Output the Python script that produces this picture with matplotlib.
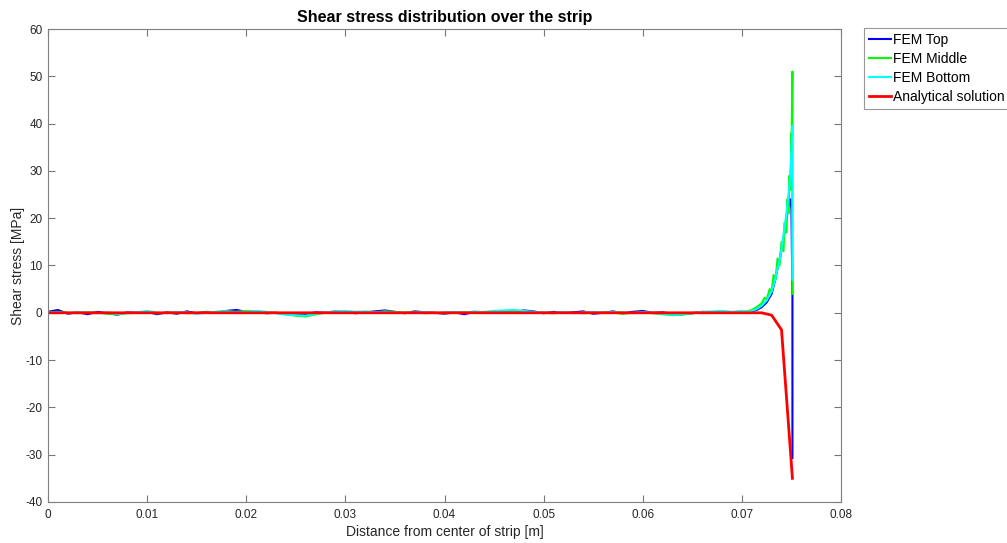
import numpy as np
import matplotlib.pyplot as plt

plt.rcParams['font.family'] = ['Liberation Sans', 'DejaVu Sans']
plt.rcParams['axes.unicode_minus'] = False

# near-zero part, 0 .. 0.07 m
top_base = [0.2, 0.6, -0.2, 0.1, -0.3, 0.2, -0.1, -0.4, 0.1, 0.0, 0.2, -0.3, 0.1, -0.2,
            0.3, -0.1, 0.2, 0.1, 0.4, 0.6, 0.2, 0.3, -0.1, 0.0, -0.2, -0.5, -0.3, 0.1,
            0.0, 0.3, 0.2, -0.1, 0.1, 0.3, 0.5, 0.2, -0.1, 0.3, 0.1, 0.0, -0.2, 0.1,
            -0.3, 0.2, 0.0, 0.1, 0.3, 0.2, 0.5, 0.3, -0.1, 0.2, 0.0, 0.1, 0.3, -0.2,
            0.0, 0.3, -0.1, 0.2, 0.4, 0.0, 0.1, -0.2, -0.3, -0.1, 0.2, 0.1, 0.3, 0.0, 0.2]
mid_base = [0.1, 0.2, 0.0, -0.1, 0.1, 0.0, -0.2, -0.3, -0.1, 0.0, 0.1, -0.1, 0.0, 0.1,
            -0.1, 0.0, 0.1, 0.2, 0.3, 0.2, 0.4, 0.3, 0.1, 0.0, -0.3, -0.6, -0.8, -0.3,
            0.0, 0.2, 0.1, 0.0, 0.2, 0.1, 0.3, 0.2, 0.0, 0.1, -0.1, 0.0, -0.1, 0.0,
            0.1, 0.0, 0.2, 0.3, 0.4, 0.3, 0.2, 0.1, 0.0, -0.1, 0.1, 0.0, -0.1, 0.0,
            0.1, 0.0, -0.2, 0.0, 0.1, -0.1, -0.3, -0.5, -0.4, -0.1, 0.1, 0.0, 0.2, 0.1, 0.3]
bot_base = [0.0, 0.1, -0.1, 0.2, 0.0, -0.1, 0.1, -0.2, 0.0, 0.1, 0.4, 0.0, -0.1, 0.2,
            0.1, -0.2, 0.0, 0.2, 0.3, 0.1, 0.2, 0.4, 0.2, -0.1, -0.4, -0.5, -0.6, -0.2,
            0.1, 0.3, 0.4, 0.2, 0.3, 0.1, 0.2, 0.0, 0.1, 0.0, 0.2, -0.1, 0.1, 0.2,
            0.0, 0.3, 0.1, 0.4, 0.5, 0.6, 0.4, 0.2, 0.1, 0.0, 0.2, -0.1, 0.1, 0.2,
            0.0, 0.2, 0.1, -0.1, 0.2, 0.0, -0.2, -0.4, -0.3, 0.0, 0.2, 0.3, 0.4, 0.2, 0.4]

# edge peak, 0.0705 .. 0.0751 m
top_tail_x = [0.0705, 0.071, 0.0715, 0.072, 0.0725, 0.073, 0.0733, 0.0735, 0.0738, 0.074,
              0.0743, 0.0745, 0.0747, 0.0749, 0.075, 0.0751, 0.0751]
top_tail = [0.1, 0.3, 0.6, 1.2, 2.2, 4.0, 6.5, 8.5, 11.0, 13.5, 17.0, 20.0, 22.5, 24.0,
            22.0, 3.5, -30.7]
mid_tail_x = [0.0705, 0.071, 0.0715, 0.072, 0.0723, 0.0725, 0.0728, 0.073, 0.0732, 0.0734,
              0.0736, 0.0738, 0.074, 0.0742, 0.0743, 0.0745, 0.0746, 0.0747, 0.0748,
              0.0749, 0.075, 0.075, 0.0751, 0.0751]
mid_tail = [0.3, 0.6, 1.2, 2.0, 3.2, 2.8, 5.0, 4.5, 8.0, 7.0, 11.5, 10.0, 15.0, 13.0,
            19.0, 17.0, 24.0, 21.0, 29.0, 26.0, 38.0, 34.0, 51.0, 4.0]
bot_tail_x = [0.0705, 0.071, 0.0715, 0.072, 0.0725, 0.073, 0.0733, 0.0735, 0.0738, 0.074,
              0.0742, 0.0744, 0.0746, 0.0748, 0.0749, 0.075, 0.0751, 0.0751]
bot_tail = [0.2, 0.4, 0.8, 1.5, 2.6, 4.5, 6.5, 8.5, 11.0, 13.5, 16.5, 19.5, 23.0, 27.0,
            30.0, 34.0, 39.5, 7.0]

ana_x = [0.0, 0.072, 0.073, 0.074, 0.0751]
ana_y = [0.0, 0.0, -0.5, -3.6, -35.0]

def series(base, tail_x, tail):
    x = list(np.linspace(0, 0.07, len(base))) + tail_x
    return x, base + tail

x_top, y_top = series(top_base, top_tail_x, top_tail)
x_mid, y_mid = series(mid_base, mid_tail_x, mid_tail)
x_bot, y_bot = series(bot_base, bot_tail_x, bot_tail)

fig = plt.figure(figsize=(10.07, 5.43), dpi=100)
ax = fig.add_axes([48/1007, 1 - 502/543, 793/1007, 473/543])

ax.plot(x_top, y_top, color='#0000ff', lw=1.5, label='FEM Top')
ax.plot(x_mid, y_mid, color='#00ff00', lw=1.5, label='FEM Middle')
ax.plot(x_bot, y_bot, color='#00ffff', lw=1.5, label='FEM Bottom')
ax.plot(ana_x, ana_y, color='#ff0000', lw=2, label='Analytical solution')

ax.set_xlim(0, 0.08)
ax.set_ylim(-40, 60)
ax.set_xticks(np.arange(0, 0.081, 0.01))
ax.set_xticklabels(['0', '0.01', '0.02', '0.03', '0.04', '0.05', '0.06', '0.07', '0.08'])
ax.set_yticks(np.arange(-40, 61, 10))
ax.tick_params(direction='in', top=True, right=True, length=5, color='#777777',
               labelsize=8.5, labelcolor='#262626')
ax.tick_params(axis='x', pad=5)
ax.tick_params(axis='y', pad=4)
for s in ax.spines.values():
    s.set_color('#7f7f7f')
    s.set_linewidth(0.8)

ax.set_xlabel('Distance from center of strip [m]', fontsize=10, color='#262626', labelpad=3)
ax.set_ylabel('Shear stress [MPa]', fontsize=10, color='#262626', labelpad=0)
ax.set_title('Shear stress distribution over the strip', fontsize=11.5, fontweight='bold', pad=5)

leg = ax.legend(loc='upper left', bbox_to_anchor=(1.0286, 1.002), fontsize=10,
                frameon=True, fancybox=False, borderaxespad=0, handlelength=1.6,
                handletextpad=0.15, labelspacing=0.36, borderpad=0.35)
leg.get_frame().set_edgecolor('#7f7f7f')
leg.get_frame().set_linewidth(0.8)

fig.savefig('out.png', dpi=100)
